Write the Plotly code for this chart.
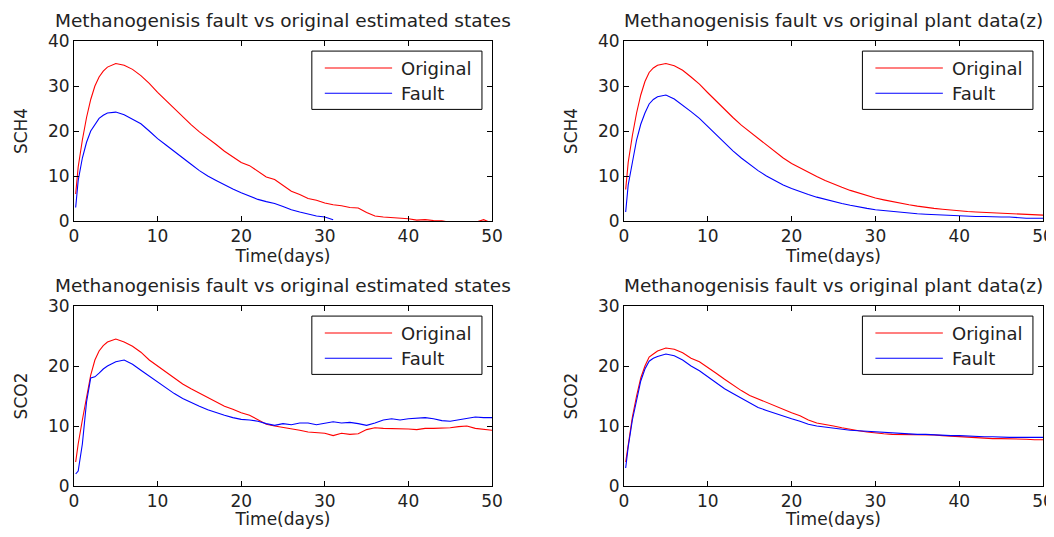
import plotly.graph_objects as go

# ---- data ----
T = [0.2, 0.5, 1, 1.5, 2, 2.5, 3, 3.5, 4] + list(range(5, 51))

sch4_est_orig = [6, 12, 18, 23, 27, 30, 32, 33.3, 34.2,
                 35, 34.6, 33.7, 32.3, 30.6, 28.6, 26.8, 25, 23, 21.4, 19.8, 18.5, 17, 15.5, 14.3, 13,
                 12.3, 11, 9.8, 9.2, 7.9, 6.6, 5.9, 5, 4.6, 4.0, 3.6, 3.4, 3.0, 2.9, 1.9, 1.1, 0.9, 0.8,
                 0.7, 0.5, 0.2, 0.3, 0.1, 0.05, -0.3, -0.5, -0.5, -0.3, 0.3, -0.5]
sch4_est_fault = [3, 9, 14, 17.5, 20, 21.5, 22.8, 23.5, 24,
                  24.2, 23.6, 22.6, 21.6, 20, 18.3, 16.9, 15.4, 14, 12.6, 11.2, 10, 9, 8, 7.1, 6.3,
                  5.5, 4.8, 4.3, 3.9, 3.2, 2.5, 2.0, 1.5, 1.1, 0.9, 0.3] + [None] * 19
sch4_plant_orig = [7, 13, 19, 24, 28, 31, 33, 34, 34.6,
                   35, 34.5, 33.5, 32, 30.4, 28.5, 26.6, 24.8, 23, 21.3, 19.8, 18.3, 16.8, 15.3, 14, 12.8,
                   11.8, 10.8, 9.9, 9.0, 8.2, 7.5, 6.8, 6.2, 5.6, 5.1, 4.7, 4.3, 3.9, 3.6, 3.3, 3.0, 2.8,
                   2.6, 2.4, 2.2, 2.1, 2.0, 1.9, 1.8, 1.7, 1.6, 1.5, 1.4, 1.3, 1.3]
sch4_plant_fault = [2, 8, 13, 18, 21.5, 24, 26, 27, 27.6,
                    28, 27.1, 25.8, 24.3, 22.8, 21, 19.2, 17.3, 15.6, 14, 12.5, 11.2, 10, 9, 8, 7.2,
                    6.5, 5.9, 5.3, 4.8, 4.3, 3.9, 3.5, 3.1, 2.8, 2.5, 2.3, 2.1, 1.9, 1.7, 1.6, 1.5, 1.4,
                    1.3, 1.2, 1.1, 1.05, 1.0, 1.0, 0.9, 0.9, 0.9, 0.7, 0.6, 0.6, 0.6]
sco2_est_orig = [4, 7, 11, 15, 18.5, 21, 22.5, 23.4, 24,
                 24.5, 24, 23.3, 22.3, 21, 20, 19, 18, 17, 16.2, 15.5, 14.8, 14, 13.3, 12.8, 12.2,
                 11.8, 11, 10.3, 10, 9.8, 9.5, 9.3, 9.0, 8.9, 8.8, 8.4, 8.8, 8.6, 8.7, 9.4, 9.7, 9.6,
                 9.6, 9.5, 9.5, 9.4, 9.6, 9.6, 9.6, 9.7, 9.9, 10, 9.6, 9.4, 9.3]
sco2_est_fault = [2, 2.5, 7, 14, 18, 18.2, 18.8, 19.5, 20,
                  20.7, 21, 20.3, 19.3, 18.3, 17.3, 16.3, 15.4, 14.6, 13.9, 13.3, 12.7, 12.2, 11.8, 11.4, 11.1,
                  11.0, 10.8, 10.4, 10.1, 10.4, 10.2, 10.5, 10.5, 10.2, 10.4, 10.7, 10.5, 10.6, 10.4, 10.1, 10.5, 11,
                  11.2, 11, 11.2, 11.3, 11.4, 11.2, 10.9, 10.8, 11, 11.3, 11.5, 11.4, 11.4]
sco2_plant_orig = [4, 7, 11.5, 15, 18, 20, 21.5, 22, 22.5,
                   23, 22.8, 22.2, 21.3, 20.7, 19.8, 18.8, 17.8, 16.8, 15.9, 15.1, 14.5, 14, 13.3, 12.7, 12.2,
                   11.7, 11.0, 10.5, 10.3, 10, 9.7, 9.4, 9.2, 9, 8.8, 8.7, 8.6, 8.6, 8.6, 8.5, 8.5, 8.5,
                   8.4, 8.3, 8.2, 8.2, 8.1, 8.0, 7.9, 7.9, 7.9, 7.8, 7.8, 7.7, 7.7]
sco2_plant_fault = [3, 6.5, 11, 14.5, 17.5, 19.5, 20.8, 21.3, 21.6,
                    22, 21.7, 21, 20, 19.2, 18.2, 17.2, 16.2, 15.4, 14.6, 13.8, 13.1, 12.6, 12.1, 11.6, 11.2,
                    10.8, 10.3, 10, 9.8, 9.6, 9.5, 9.3, 9.2, 9.1, 9, 8.9, 8.8, 8.8, 8.7, 8.6, 8.6, 8.5,
                    8.5, 8.4, 8.4, 8.3, 8.3, 8.2, 8.2, 8.1, 8.1, 8.1, 8.1, 8.1, 8.1]

titles = ["Methanogenisis fault vs original estimated states",
          "Methanogenisis fault vs original plant data(z)",
          "Methanogenisis fault vs original estimated states",
          "Methanogenisis fault vs original plant data(z)"]
ylabels = ["SCH4", "SCH4", "SCO2", "SCO2"]
xlabel = "Time(days)"
series_names = ["Original", "Fault"]
colors = ["#ff0000", "#0000ff"]
x_ticks = [0, 10, 20, 30, 40, 50]
y_ticks_top = [0, 10, 20, 30, 40]
y_ticks_bot = [0, 10, 20, 30]

panels = [
    (sch4_est_orig, sch4_est_fault),
    (sch4_plant_orig, sch4_plant_fault),
    (sco2_est_orig, sco2_est_fault),
    (sco2_plant_orig, sco2_plant_fault),
]

OFF = 8  # page body margin of the html document
W, H = 1054 - OFF, 537 - 2 * OFF
def px_x(p):
    return (p - OFF) / W
def px_y(p):
    return 1 - (p - OFF) / H

xdoms = [(px_x(74), px_x(492)), (px_x(624), px_x(1043))]
ydoms = [(px_y(221), px_y(41)), (px_y(486), px_y(306))]

FONT = "DejaVu Sans, Liberation Sans, sans-serif"
TXT = "#222"
fig = go.Figure()

layout = dict(width=W, height=H, margin=dict(l=0, r=0, t=0, b=0, autoexpand=False),
              paper_bgcolor="white", plot_bgcolor="white", showlegend=False,
              font=dict(family=FONT, size=17, color=TXT))
annotations = []
shapes = []

for i, (orig, fault) in enumerate(panels):
    row, col = divmod(i, 2)
    n = i + 1
    xa = "x" if n == 1 else f"x{n}"
    ya = "y" if n == 1 else f"y{n}"
    for vals, name, c in zip((orig, fault), series_names, colors):
        fig.add_trace(go.Scatter(x=T, y=vals, mode="lines", name=name,
                                 line=dict(color=c, width=1.1),
                                 xaxis=xa, yaxis=ya, connectgaps=False, cliponaxis=True))
    yt = y_ticks_top if row == 0 else y_ticks_bot
    axcommon = dict(showline=True, linecolor="black", linewidth=1, mirror="ticks",
                    ticks="inside", ticklen=5, tickcolor="black", showgrid=False,
                    zeroline=False, automargin=False, ticklabeloverflow="allow",
                    tickfont=dict(family=FONT, size=17, color=TXT))
    layout["xaxis" if n == 1 else f"xaxis{n}"] = dict(
        domain=list(xdoms[col]), range=[0, 50], tickvals=x_ticks,
        anchor=ya, title=dict(text=xlabel, standoff=2, font=dict(family=FONT, size=17, color=TXT)),
        **axcommon)
    layout["yaxis" if n == 1 else f"yaxis{n}"] = dict(
        domain=list(ydoms[row]), range=[yt[0], yt[-1]], tickvals=yt,
        anchor=xa, title=dict(text=ylabels[i], standoff=16, font=dict(family=FONT, size=17, color=TXT)),
        **axcommon)
    # subplot title
    annotations.append(dict(text=titles[i], xref=f"{xa} domain", yref=f"{ya} domain",
                            x=0.5, y=1.0, yshift=8, xanchor="center", yanchor="bottom", showarrow=False,
                            font=dict(family=FONT, size=18.5, color=TXT)))
    # legend box (MATLAB-style)
    shapes.append(dict(type="rect", xref=f"{xa} domain", yref=f"{ya} domain",
                       x0=0.569, x1=0.976, y0=0.62, y1=0.944,
                       line=dict(color="black", width=1), fillcolor="white", layer="above"))
    for k, (name, c, yy) in enumerate(zip(series_names, colors, (0.85, 0.71))):
        shapes.append(dict(type="line", xref=f"{xa} domain", yref=f"{ya} domain",
                           x0=0.600, x1=0.761, y0=yy, y1=yy,
                           line=dict(color=c, width=1.1), layer="above"))
        annotations.append(dict(text=name, xref=f"{xa} domain", yref=f"{ya} domain",
                                x=0.778, y=yy, xanchor="left", yanchor="middle", showarrow=False,
                                font=dict(family=FONT, size=18, color=TXT)))

layout["annotations"] = annotations
layout["shapes"] = shapes
fig.update_layout(**layout)
fig.write_html("out.html", post_script="document.body.style.overflow='hidden';")
